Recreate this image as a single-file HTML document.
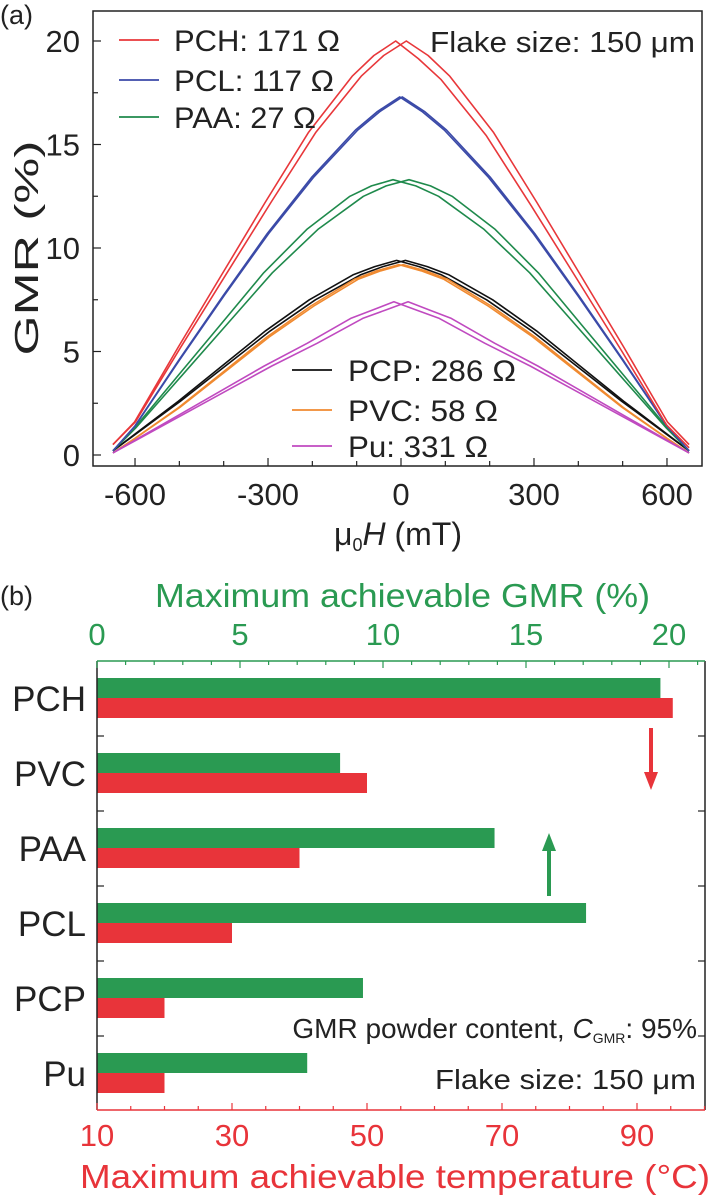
<!DOCTYPE html>
<html><head><meta charset="utf-8"><style>
html,body{margin:0;padding:0;background:#fff;}
svg{display:block;font-family:"Liberation Sans",sans-serif;}
</style></head><body>
<svg id="c" width="712" height="1197" viewBox="0 0 712 1197"></svg>
<script>
// ---- Panel (a) data ----
const fieldH = [-650,-600,-500,-400,-300,-200,-100,-50,0];
const seriesNames = ["PCH","PCL","PAA","PCP","PVC","Pu"];
const gmrPCH = [0.5,1.6,5.2,8.7,12.2,15.6,18.3,19.3,20.0];
const gmrPCL = [0.2,1.4,4.6,7.7,10.7,13.4,15.7,16.6,17.3];
const gmrPAA = [0.2,1.3,3.8,6.3,8.8,10.9,12.5,13.0,13.3];
const gmrPCP = [0.2,1.0,2.6,4.3,6.0,7.5,8.7,9.1,9.4];
const gmrPVC = [0.1,0.8,2.3,4.0,5.7,7.2,8.5,8.9,9.2];
const gmrPu  = [0.1,0.7,1.9,3.1,4.3,5.4,6.6,7.0,7.4];
const xTicksA = [-600,-300,0,300,600];
const yTicksA = [0,5,10,15,20];
// ---- Panel (b) data ----
const categories = ["PCH","PVC","PAA","PCL","PCP","Pu"];
const gmrMax = [19.7,8.5,13.9,17.1,9.3,7.35];
const tempMax = [95.3,50,40,30,20,20];
const gmrTicks = [0,5,10,15,20];
const tempTicks = [10,30,50,70,90];

const NS="http://www.w3.org/2000/svg";
const svg=document.getElementById('c');
function mk(tag,attrs,parent){const e=document.createElementNS(NS,tag);for(const k in attrs)e.setAttribute(k,attrs[k]);(parent||svg).appendChild(e);return e;}
function txt(s,attrs,parent){const e=mk('text',attrs,parent);e.textContent=s;return e;}

const xA=h=>401+h*0.4433;
const yA=g=>455-g*20.7;
const fa=mk('rect',{x:93,y:11,width:609,height:455,fill:'none',stroke:'#222','stroke-width':1.5});

for(let h=-600;h<=600;h+=100){const big=h%300===0;const t=mk('line',{x1:xA(h),x2:xA(h),y1:466,y2:466-(big?8:5),stroke:'#222','stroke-width':1.2});
}
for(let g=0;g<=20;g+=2.5){const big=g%5===0;const t=mk('line',{x1:93,x2:93+(big?8:5),y1:yA(g),y2:yA(g),stroke:'#222','stroke-width':1.2});
}
xTicksA.forEach(v=>{const t=txt(String(v),{x:xA(v),y:505,'font-size':31,'text-anchor':'middle',fill:'#222'});
});
yTicksA.forEach(v=>{const t=txt(String(v),{x:80,y:yA(v)+11,'font-size':31,'text-anchor':'end',fill:'#222'});
});
const yl=txt('GMR (%)',{x:0,y:0,'font-size':33,'text-anchor':'middle',fill:'#222',textLength:215,lengthAdjust:'spacingAndGlyphs',transform:'translate(38,248) rotate(-90)'});

const xl=mk('text',{x:398,y:545,'font-size':32,'text-anchor':'middle',fill:'#222'});
xl.innerHTML='μ<tspan font-size="18" dy="6">0</tspan><tspan dy="-6" font-style="italic">H</tspan> (mT)';

const la=txt('(a)',{x:0,y:24,'font-size':27,fill:'#222'});


const colors={PCH:'#e8373a',PCL:'#3b4aa8',PAA:'#1f8a4c',PCP:'#111',PVC:'#f08a30',Pu:'#c04ac0'};
const dataMap={PCH:gmrPCH,PCL:gmrPCL,PAA:gmrPAA,PCP:gmrPCP,PVC:gmrPVC,Pu:gmrPu};
const shift={PCH:12,PCL:3,PAA:18,PCP:10,PVC:5,Pu:16};
["PCP","PVC","Pu","PAA","PCL","PCH"].forEach(name=>{
  const vals=dataMap[name];
  [-1,1].forEach(sgn=>{
    const pts=[];
    fieldH.forEach((h,i)=>pts.push([h,vals[i]]));
    for(let i=fieldH.length-2;i>=0;i--)pts.push([-fieldH[i],vals[i]]);
    const d=pts.map((p,i)=>{const s=sgn*shift[name]*(1-Math.abs(p[0])/650);return (i?'L':'M')+xA(p[0]+s).toFixed(1)+','+yA(p[1]-(name==='PCH'&&sgn<0&&p[0]>0?0.15:0)).toFixed(1);}).join('');
    const pth=mk('path',{d:d,fill:'none',stroke:colors[name],'stroke-width':1.6,'stroke-linejoin':'round'});
    
  });
});
const legA=[["PCH","PCH: 171 Ω",119,40,174,166],["PCL","PCL: 117 Ω",119,80,174,160],["PAA","PAA: 27 Ω",119,117,174,142],["PCP","PCP: 286 Ω",292,370,348,168],["PVC","PVC: 58 Ω",292,410,348,150],["Pu","Pu: 331 Ω",292,446,348,140]];
legA.forEach(l=>{const g=mk('g',{});
mk('line',{x1:l[2],x2:l[2]+40,y1:l[3],y2:l[3],stroke:colors[l[0]],'stroke-width':1.8},g);
txt(l[1],{x:l[4],y:l[3]+11,'font-size':30,fill:'#222',textLength:l[5],lengthAdjust:'spacingAndGlyphs'},g);});
const fs=txt('Flake size: 150 μm',{x:430,y:52,'font-size':29,fill:'#222',textLength:265,lengthAdjust:'spacingAndGlyphs'});


// ---- Panel (b) ----
const xG=g=>97+g*28.6;
const xT=t=>97+(t-10)*6.75;
const rowTop=i=>661+i*75;
const GREEN='#2a9a52',RED='#e8343a';
categories.forEach((c,i)=>{
  const gb=mk('rect',{x:97,y:rowTop(i)+17,width:xG(gmrMax[i])-97,height:20,fill:GREEN});
  
  const rb=mk('rect',{x:97,y:rowTop(i)+37,width:xT(tempMax[i])-97,height:20,fill:RED});
  
  const cl=txt(c,{x:86,y:rowTop(i)+50,'font-size':35,'text-anchor':'end',fill:'#222'});
  
  if(i>0){const t1=mk('line',{x1:97,x2:104,y1:rowTop(i),y2:rowTop(i),stroke:'#222','stroke-width':1.2});
  const t2=mk('line',{x1:705,x2:698,y1:rowTop(i),y2:rowTop(i),stroke:'#222','stroke-width':1.2});}
});
const l1=mk('line',{x1:97,x2:97,y1:661,y2:1110,stroke:'#222','stroke-width':1.5});
const l2=mk('line',{x1:705,x2:705,y1:661,y2:1110,stroke:'#222','stroke-width':1.5});
const l3=mk('line',{x1:97,x2:705,y1:661,y2:661,stroke:GREEN,'stroke-width':1.5});
const l4=mk('line',{x1:97,x2:705,y1:1110,y2:1110,stroke:RED,'stroke-width':1.5});
for(let g=0;g<=21;g+=1){const big=g%5===0;const t=mk('line',{x1:xG(g),x2:xG(g),y1:661,y2:661+(big?7:4),stroke:GREEN,'stroke-width':1.2});}
for(let t0=10;t0<=100;t0+=5){const big=(t0-10)%20===0;const t=mk('line',{x1:xT(t0),x2:xT(t0),y1:1110,y2:1110-(big?7:4),stroke:RED,'stroke-width':1.2});}
gmrTicks.forEach(v=>{const t=txt(String(v),{x:xG(v),y:645,'font-size':31,'text-anchor':'middle',fill:GREEN});});
tempTicks.forEach(v=>{const t=txt(String(v),{x:xT(v),y:1146,'font-size':31,'text-anchor':'middle',fill:RED});});
const tt=txt('Maximum achievable GMR (%)',{x:155,y:607,'font-size':33,fill:GREEN,textLength:495,lengthAdjust:'spacingAndGlyphs'});
const bt=txt('Maximum achievable temperature (°C)',{x:80,y:1188,'font-size':33,fill:RED,textLength:630,lengthAdjust:'spacingAndGlyphs'});
const lb=txt('(b)',{x:0,y:605,'font-size':27,fill:'#222'});
const ar=mk('g',{});
mk('line',{x1:651,x2:651,y1:728,y2:775,stroke:RED,'stroke-width':4},ar);
mk('polygon',{points:'644,772 658,772 651,790',fill:RED},ar);
const ag=mk('g',{});
mk('line',{x1:549,x2:549,y1:896,y2:848,stroke:GREEN,'stroke-width':4},ag);
mk('polygon',{points:'542,851 556,851 549,833',fill:GREEN},ag);
const n1=mk('text',{x:697,y:1038,'font-size':28,fill:'#222','text-anchor':'end'});
n1.innerHTML='GMR powder content, <tspan font-style="italic">C</tspan><tspan font-size="14" dy="5">GMR</tspan><tspan dy="-5">: 95%</tspan>';

const n2=txt('Flake size: 150 μm',{x:435,y:1089,'font-size':28,fill:'#222',textLength:261,lengthAdjust:'spacingAndGlyphs'});

</script>
</body></html>
